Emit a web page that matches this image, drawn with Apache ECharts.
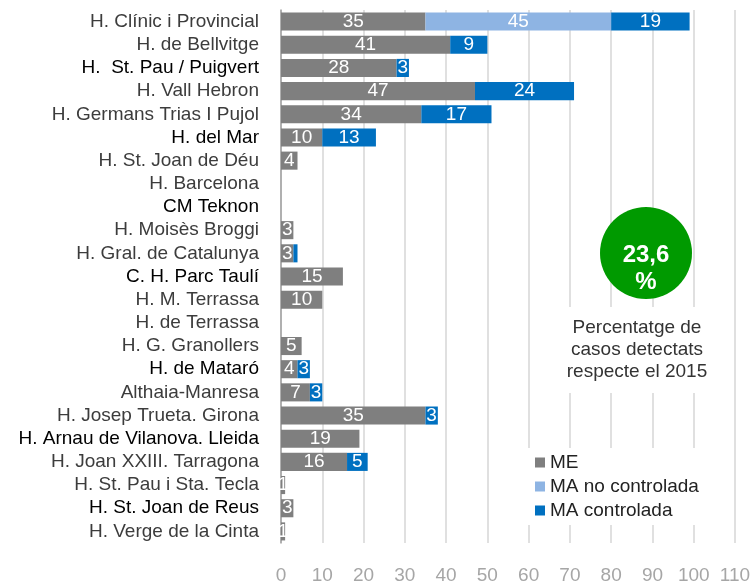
<!DOCTYPE html>
<html>
<head>
<meta charset="utf-8">
<title>ECharts</title>
<script type="text/javascript" src="https://cdn.jsdelivr.net/npm/echarts@6/dist/echarts.min.js"></script>
<style>
	html, body { margin: 0; padding: 0; background: #fff; }
</style>
</head>
<body>
	<div id="main" style="width: 756px; height: 585px;"></div>
<script type="text/javascript">
	// hospitals, top to bottom
	var hospitals = [
		'H. Clínic i Provincial', 'H. de Bellvitge', 'H.  St. Pau / Puigvert', 'H. Vall Hebron',
		'H. Germans Trias I Pujol', 'H. del Mar', 'H. St. Joan de Déu', 'H. Barcelona',
		'CM Teknon', 'H. Moisès Broggi', 'H. Gral. de Catalunya', 'C. H. Parc Taulí',
		'H. M. Terrassa', 'H. de Terrassa', 'H. G. Granollers', 'H. de Mataró',
		'Althaia-Manresa', 'H. Josep Trueta. Girona', 'H. Arnau de Vilanova. Lleida',
		'H. Joan XXIII. Tarragona', 'H. St. Pau i Sta. Tecla', 'H. St. Joan de Reus',
		'H. Verge de la Cinta'
	];
	// labels drawn darker in the original
	var darkLabels = [
		'H.  St. Pau / Puigvert', 'H. del Mar', 'CM Teknon', 'C. H. Parc Taulí',
		'H. de Mataró', 'H. Arnau de Vilanova. Lleida', 'H. St. Joan de Reus'
	];
	var seriesNames = ['ME', 'MA no controlada', 'MA controlada'];
	var me          = [35, 41, 28, 47, 34, 10, 4, 0, 0, 3, 3, 15, 10, 0, 5, 4, 7, 35, 19, 16, 1, 3, 1];
	var maNoCtrl    = [45, 0, 0, 0, 0, 0, 0, 0, 0, 0, 0, 0, 0, 0, 0, 0, 0, 0, 0, 0, 0, 0, 0];
	var maCtrl      = [19, 9, 3, 24, 17, 13, 0, 0, 0, 0, 1, 0, 0, 0, 0, 3, 3, 3, 0, 5, 0, 0, 0];
	var xTicks = [0, 10, 20, 30, 40, 50, 60, 70, 80, 90, 100, 110];
	var colors = ['#7f7f7f', '#8eb4e3', '#0070c0'];

	var myChart = echarts.init(document.getElementById('main'));

	function barLabel(minShow) {
		return {
			show : true,
			position : 'inside',
			color : '#fff',
			fontSize : 19,
			fontFamily : 'Liberation Sans',
			formatter : function(p) {
				return p.value >= minShow ? String(p.value) : '';
			}
		};
	}

	function makeSeries(i, data, minShow) {
		return {
			name : seriesNames[i],
			type : 'bar',
			stack : 'total',
			barCategoryGap : '22%',
			itemStyle : { color : colors[i] },
			label : barLabel(minShow),
			data : data.map(function(v) { return v === 0 ? null : v; })
		};
	}

	var option = {
		animation : false,
		textStyle : { fontFamily : 'Liberation Sans' },
		grid : {
			left : 281,
			right : 21,
			top : 10,
			bottom : 41
		},
		legend : {
			orient : 'vertical',
			left : 523,
			top : 448,
			padding : [5, 12, 5, 12],
			backgroundColor : '#fff',
			itemWidth : 10,
			itemHeight : 10,
			itemGap : 5,
			icon : 'rect',
			textStyle : { fontSize : 19, color : '#222', fontFamily : 'Liberation Sans' },
			data : seriesNames
		},
		xAxis : {
			type : 'value',
			min : xTicks[0],
			max : xTicks[xTicks.length - 1],
			interval : 10,
			axisLine : { show : false },
			axisTick : { show : false },
			splitLine : { lineStyle : { color : '#d6d6d6', width : 1.5 } },
			axisLabel : { color : '#a6a6a6', fontSize : 19, margin : 23 }
		},
		yAxis : {
			type : 'category',
			inverse : true,
			data : hospitals,
			axisLine : { lineStyle : { color : '#a0a0a0', width : 1.5 } },
			axisTick : { length : 7, interval : 0, lineStyle : { color : '#a0a0a0', width : 1.5 } },
			axisLabel : {
				interval : 0,
				margin : 22,
				fontSize : 19,
				formatter : function(v) {
					return darkLabels.indexOf(v) >= 0 ? '{d|' + v + '}' : '{n|' + v + '}';
				},
				rich : {
					d : { color : '#000', fontSize : 19 },
					n : { color : '#3c3c3c', fontSize : 19 }
				}
			}
		},
		graphic : [
			{
				type : 'circle',
				z : 100,
				shape : { cx : 646, cy : 253, r : 46 },
				style : { fill : '#009a00' }
			},
			{
				type : 'text',
				z : 101,
				x : 646, y : 255,
				style : {
					text : '23,6',
					fill : '#fff',
					font : 'bold 24px "Liberation Sans"',
					align : 'center',
					verticalAlign : 'middle'
				}
			},
			{
				type : 'text',
				z : 101,
				x : 646, y : 282,
				style : {
					text : '%',
					fill : '#fff',
					font : 'bold 24px "Liberation Sans"',
					align : 'center',
					verticalAlign : 'middle'
				}
			},
			{
				type : 'text',
				z : 100,
				x : 637, y : 350,
				style : {
					text : 'Percentatge de\ncasos detectats\nrespecte el 2015',
					fill : '#333',
					font : '19px "Liberation Sans"',
					lineHeight : 22,
					align : 'center',
					verticalAlign : 'middle',
					backgroundColor : '#fff',
					padding : [10, 12, 10, 12]
				}
			}
		],
		series : [
			makeSeries(0, me, 1),
			makeSeries(1, maNoCtrl, 1),
			makeSeries(2, maCtrl, 2)
		]
	};

	myChart.setOption(option);
</script>
</body>
</html>
